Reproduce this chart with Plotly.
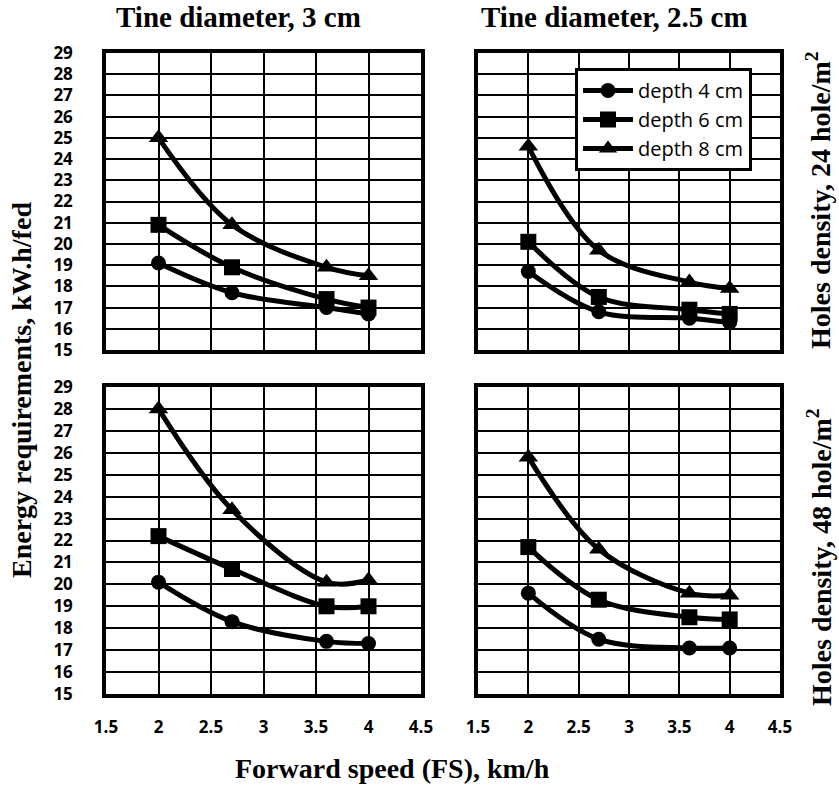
import plotly.graph_objects as go

# ---------------- data ----------------
speed = [2, 2.7, 3.6, 4]
depth_labels = ["depth 4 cm", "depth 6 cm", "depth 8 cm"]
x_ticks = [1.5, 2, 2.5, 3, 3.5, 4, 4.5]
y_ticks = list(range(15, 30))

# Tine diameter 3 cm, holes density 24 hole/m2
td3_hd24_d4 = [19.1, 17.7, 17.0, 16.7]
td3_hd24_d6 = [20.9, 18.9, 17.4, 17.0]
td3_hd24_d8 = [25.0, 20.9, 18.9, 18.5]
# Tine diameter 2.5 cm, holes density 24 hole/m2
td25_hd24_d4 = [18.7, 16.8, 16.5, 16.3]
td25_hd24_d6 = [20.1, 17.5, 16.9, 16.7]
td25_hd24_d8 = [24.6, 19.7, 18.2, 17.9]
# Tine diameter 3 cm, holes density 48 hole/m2
td3_hd48_d4 = [20.1, 18.3, 17.4, 17.3]
td3_hd48_d6 = [22.2, 20.7, 19.0, 19.0]
td3_hd48_d8 = [28.0, 23.4, 20.1, 20.2]
# Tine diameter 2.5 cm, holes density 48 hole/m2
td25_hd48_d4 = [19.6, 17.5, 17.1, 17.1]
td25_hd48_d6 = [21.7, 19.3, 18.5, 18.4]
td25_hd48_d8 = [25.8, 21.6, 19.6, 19.5]

col_titles = ["Tine diameter, 3 cm", "Tine diameter, 2.5 cm"]
row_titles = ["Holes density, 24 hole/m<sup>2</sup>", "Holes density, 48 hole/m<sup>2</sup>"]
y_title = "Energy requirements, kW.h/fed"
x_title = "Forward speed (FS), km/h"

panels = [
    (1, 1, [td3_hd24_d4, td3_hd24_d6, td3_hd24_d8]),
    (1, 2, [td25_hd24_d4, td25_hd24_d6, td25_hd24_d8]),
    (2, 1, [td3_hd48_d4, td3_hd48_d6, td3_hd48_d8]),
    (2, 2, [td25_hd48_d4, td25_hd48_d6, td25_hd48_d8]),
]

W, H = 839, 785
col_px = [(106, 421), (478, 780)]
row_px = [(53, 350), (387, 694)]

symbols = ["circle", "square", "triangle-up"]
msizes = [15, 16, 17]

fig = go.Figure()
tick_font = dict(family="Open Sans", size=17, color="black", weight="bold")
title_font = dict(family="Liberation Serif", size=28, color="black", weight="bold")

for idx, (r, c, series) in enumerate(panels):
    n = idx + 1
    xa = "x" if n == 1 else f"x{n}"
    ya = "y" if n == 1 else f"y{n}"
    for k, vals in enumerate(series):
        fig.add_trace(go.Scatter(
            x=speed, y=vals, xaxis=xa, yaxis=ya,
            mode="lines+markers", name=depth_labels[k],
            line=dict(color="black", width=5, shape="spline", smoothing=1.0),
            marker=dict(symbol=symbols[k], size=msizes[k], color="black"),
            showlegend=(n == 2),
        ))
    x0, x1 = col_px[c - 1]
    y0, y1 = row_px[r - 1]
    xkey = "xaxis" if n == 1 else f"xaxis{n}"
    ykey = "yaxis" if n == 1 else f"yaxis{n}"
    fig.update_layout(**{
        xkey: dict(
            domain=[x0 / W, x1 / W], anchor=ya, range=[1.5, 4.5],
            tickvals=x_ticks, showticklabels=(r == 2), ticks="",
            ticklabelstandoff=15, tickfont=tick_font,
            showgrid=True, gridcolor="black", gridwidth=1.5, zeroline=False,
            showline=True, linecolor="black", linewidth=3.5, mirror=True,
        ),
        ykey: dict(
            domain=[1 - y1 / H, 1 - y0 / H], anchor=xa, range=[15, 29],
            tickvals=y_ticks, showticklabels=(c == 1), ticks="",
            ticklabelstandoff=26, tickfont=tick_font,
            showgrid=True, gridcolor="black", gridwidth=1.5, zeroline=False,
            showline=True, linecolor="black", linewidth=3.5, mirror=True,
        ),
    })

ann = []
ann.append(dict(text=col_titles[0], x=238 / W, y=1 - 17 / H, font_size=29))
ann.append(dict(text=col_titles[1], x=614 / W, y=1 - 17 / H, font_size=29))
ann.append(dict(text=row_titles[0], x=819 / W, y=1 - 200 / H, textangle=-90))
ann.append(dict(text=row_titles[1], x=819 / W, y=1 - 557 / H, textangle=-90))
ann.append(dict(text=y_title, x=21 / W, y=1 - 390 / H, textangle=-90))
ann.append(dict(text=x_title, x=392 / W, y=1 - 768 / H))
for a in ann:
    fs = a.pop("font_size", 28)
    a.update(xref="paper", yref="paper", showarrow=False,
             font=dict(title_font, size=fs),
             xanchor="center", yanchor="middle")

fig.update_layout(
    width=W, height=H,
    margin=dict(l=0, r=0, t=0, b=0),
    paper_bgcolor="white", plot_bgcolor="white",
    template="none",
    annotations=ann,
    legend=dict(
        x=575 / W, y=1 - 68 / H, xanchor="left", yanchor="top",
        bgcolor="white", bordercolor="black", borderwidth=3,
        font=dict(family="Open Sans", size=20, color="black"),
        itemwidth=50, tracegroupgap=0,
    ),
)

fig.write_html("out.html",
               config={"displayModeBar": False},
               post_script="document.body.style.margin='0';document.body.style.overflow='hidden';")
